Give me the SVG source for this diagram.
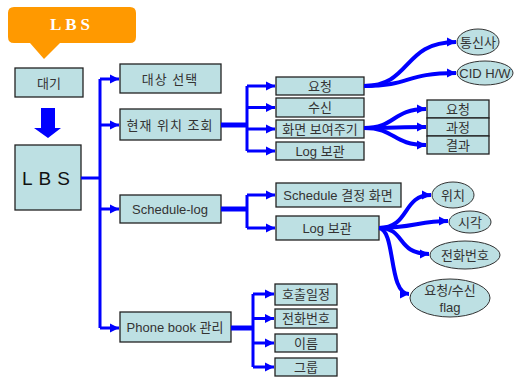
<svg xmlns="http://www.w3.org/2000/svg" width="514" height="378" viewBox="0 0 514 378">
<style>
.box{fill:#BDE0E3;stroke:#222;stroke-width:1.3}
.ell{fill:#BDE0E3;stroke:#333;stroke-width:1}
.t{font-family:"Liberation Sans","Noto Sans CJK KR",sans-serif;font-size:13px;fill:#333;text-anchor:middle;dominant-baseline:central}
.ln{fill:none;stroke:#0000FF;stroke-width:3}
.thick{fill:none;stroke:#0000FF;stroke-width:5}
.cv{fill:none;stroke:#0000FF;stroke-width:4}
</style>
<defs>
<marker id="ah" markerUnits="userSpaceOnUse" markerWidth="10" markerHeight="10" refX="9" refY="5" orient="auto">
<path d="M0,0.5 L9,5 L0,9.5 Z" fill="#0000FF"/>
</marker>
</defs>
<rect width="514" height="378" fill="#fff"/>

<g id="title">
<path d="M14,7 H130 Q136,7 136,13 V37 Q136,43 130,43 H60 L44,59 L30,43 H14 Q8,43 8,37 V13 Q8,7 14,7 Z" fill="#FF9900"/>
<text x="72" y="24" font-family="Liberation Serif,serif" font-weight="bold" font-size="17" fill="#fff" text-anchor="middle" dominant-baseline="central" letter-spacing="4">LBS</text>
</g>

<g id="n-daegi"><rect class="box" x="15" y="68" width="68" height="29"/><text class="t" x="49" y="83">대기</text></g>
<g id="downarrow"><path d="M41,108 H55 V128 H61 L48,138 L34,128 H41 Z" fill="#0000FF"/></g>
<g id="n-lbs"><rect class="box" x="15" y="145" width="66" height="65"/><text x="49" y="178" font-family="Liberation Sans,sans-serif" font-size="19" fill="#111" text-anchor="middle" dominant-baseline="central" letter-spacing="6">LBS</text></g>

<g id="n-target"><rect class="box" x="120" y="64" width="101" height="29"/><text class="t" x="170" y="79" letter-spacing="1">대상 선택</text></g>
<g id="n-cur"><rect class="box" x="120" y="109" width="101" height="31"/><text class="t" x="170" y="125" letter-spacing="1">현재 위치 조회</text></g>
<g id="n-sched"><rect class="box" x="120" y="195" width="101" height="28"/><text class="t" x="170" y="209">Schedule-log</text></g>
<g id="n-phone"><rect class="box" x="120" y="312" width="111" height="30"/><text class="t" x="175" y="327">Phone book 관리</text></g>

<g id="n-req"><rect class="box" x="276" y="77" width="88" height="18"/><text class="t" x="320" y="86">요청</text></g>
<g id="n-recv"><rect class="box" x="276" y="98" width="88" height="19"/><text class="t" x="320" y="107.5">수신</text></g>
<g id="n-show"><rect class="box" x="276" y="120" width="88" height="18"/><text class="t" x="320" y="129">화면 보여주기</text></g>
<g id="n-log1"><rect class="box" x="276" y="142" width="88" height="18"/><text class="t" x="320" y="151">Log 보관</text></g>

<g id="n-telecom"><ellipse class="ell" cx="478" cy="42" rx="21" ry="13"/><text class="t" x="478" y="42">통신사</text></g>
<g id="n-cid"><ellipse class="ell" cx="485" cy="73" rx="28" ry="12"/><text class="t" x="485" y="73">CID H/W</text></g>

<g id="n-r1"><rect class="box" x="427" y="100" width="62" height="18"/><text class="t" x="458" y="109">요청</text></g>
<g id="n-r2"><rect class="box" x="427" y="118" width="62" height="18"/><text class="t" x="458" y="127">과정</text></g>
<g id="n-r3"><rect class="box" x="427" y="136" width="62" height="18"/><text class="t" x="458" y="145">결과</text></g>

<g id="n-decide"><rect class="box" x="276" y="183" width="125" height="24"/><text class="t" x="338" y="195">Schedule 결정 화면</text></g>
<g id="n-log2"><rect class="box" x="276" y="216" width="103" height="24"/><text class="t" x="327" y="228">Log 보관</text></g>

<g id="n-pos"><ellipse class="ell" cx="453" cy="195" rx="21" ry="13"/><text class="t" x="453" y="195">위치</text></g>
<g id="n-time"><ellipse class="ell" cx="470" cy="222" rx="21" ry="11"/><text class="t" x="470" y="222">시각</text></g>
<g id="n-phoneno"><ellipse class="ell" cx="465" cy="255" rx="35" ry="14"/><text class="t" x="465" y="255">전화번호</text></g>
<g id="n-flag"><ellipse class="ell" cx="450" cy="298" rx="40" ry="19"/><text class="t" x="450" y="290">요청/수신</text><text class="t" x="450" y="307">flag</text></g>

<g id="n-call"><rect class="box" x="275" y="284" width="62" height="21"/><text class="t" x="306" y="294.5">호출일정</text></g>
<g id="n-tel"><rect class="box" x="275" y="309" width="62" height="19"/><text class="t" x="306" y="318.5">전화번호</text></g>
<g id="n-name"><rect class="box" x="275" y="334" width="62" height="18"/><text class="t" x="306" y="343">이름</text></g>
<g id="n-group"><rect class="box" x="275" y="358" width="62" height="18"/><text class="t" x="306" y="367">그룹</text></g>

<g id="connectors">
<path class="ln" d="M81,178 H100 M100,79 V328"/>
<path class="ln" d="M100,79 H119" marker-end="url(#ah)"/>
<path class="ln" d="M100,125 H119" marker-end="url(#ah)"/>
<path class="ln" d="M100,209 H119" marker-end="url(#ah)"/>
<path class="ln" d="M100,328 H119" marker-end="url(#ah)"/>

<path class="thick" d="M221,125 H247"/>
<path class="ln" d="M247,86 V151"/>
<path class="ln" d="M247,86 H275" marker-end="url(#ah)"/>
<path class="ln" d="M247,107.5 H275" marker-end="url(#ah)"/>
<path class="ln" d="M247,129 H275" marker-end="url(#ah)"/>
<path class="ln" d="M247,151 H275" marker-end="url(#ah)"/>

<path class="thick" d="M221,209 H247"/>
<path class="ln" d="M247,195 V228"/>
<path class="ln" d="M247,195 H275" marker-end="url(#ah)"/>
<path class="ln" d="M247,228 H275" marker-end="url(#ah)"/>

<path class="thick" d="M231,328 H253"/>
<path class="ln" d="M253,294 V367"/>
<path class="ln" d="M253,294 H274" marker-end="url(#ah)"/>
<path class="ln" d="M253,318.5 H274" marker-end="url(#ah)"/>
<path class="ln" d="M253,343 H274" marker-end="url(#ah)"/>
<path class="ln" d="M253,367 H274" marker-end="url(#ah)"/>

<path class="cv" d="M364,86 C412,86 402,42 456,42" marker-end="url(#ah)"/>
<path class="cv" d="M364,86 C412,86 404,73 456,73" marker-end="url(#ah)"/>
<path class="cv" d="M364,128 C396,128 392,109 426,109" marker-end="url(#ah)"/>
<path class="cv" d="M364,128 C392,128 400,127 426,127" marker-end="url(#ah)"/>
<path class="cv" d="M364,128 C396,128 392,145 426,145" marker-end="url(#ah)"/>

<path class="cv" d="M379,228 C410,228 402,195 431,195" marker-end="url(#ah)"/>
<path class="cv" d="M379,228 C412,228 420,221 448,221" marker-end="url(#ah)"/>
<path class="cv" d="M379,228 C406,228 396,254 429,254" marker-end="url(#ah)"/>
<path class="cv" d="M379,228 C396,230 388,294 409,294" marker-end="url(#ah)"/>
</g>
</svg>
